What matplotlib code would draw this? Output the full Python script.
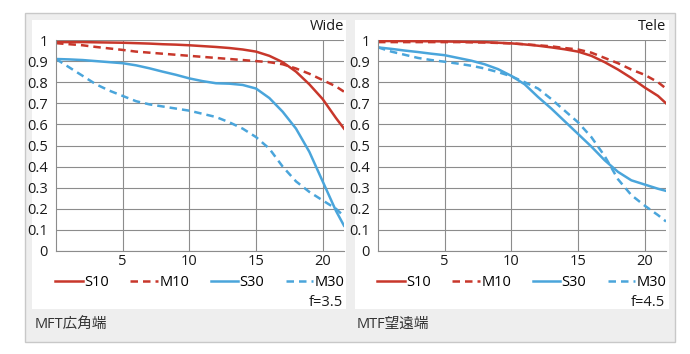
import matplotlib.pyplot as plt
from matplotlib.patches import Rectangle
from matplotlib.lines import Line2D

plt.rcParams['font.family'] = ['Open Sans', 'Noto Sans CJK JP', 'DejaVu Sans']

# data (image height, MTF)
x_wide = [0, 1, 2, 3, 4, 5, 6, 7, 8, 9, 10, 11, 12, 13, 14, 15, 16, 17, 18, 19, 20, 21, 21.6]
wide_s10 = [0.99, 0.99, 0.99, 0.989, 0.988, 0.987, 0.985, 0.983, 0.98, 0.978, 0.975, 0.971, 0.967, 0.962, 0.955, 0.945, 0.925, 0.895, 0.85, 0.79, 0.72, 0.63, 0.58]
wide_m10 = [0.985, 0.98, 0.975, 0.967, 0.96, 0.953, 0.945, 0.94, 0.935, 0.93, 0.925, 0.92, 0.915, 0.91, 0.905, 0.9, 0.895, 0.885, 0.865, 0.84, 0.81, 0.78, 0.755]
wide_s30 = [0.91, 0.908, 0.905, 0.9, 0.895, 0.89, 0.88, 0.866, 0.85, 0.835, 0.818, 0.805, 0.795, 0.793, 0.787, 0.77, 0.725, 0.66, 0.58, 0.47, 0.33, 0.19, 0.12]
wide_m30 = [0.91, 0.87, 0.83, 0.79, 0.76, 0.735, 0.71, 0.695, 0.685, 0.675, 0.665, 0.65, 0.635, 0.61, 0.58, 0.54, 0.485, 0.4, 0.33, 0.28, 0.24, 0.2, 0.165]

x_tele = [0, 1, 2, 3, 4, 5, 6, 7, 8, 9, 10, 11, 12, 13, 14, 15, 16, 17, 18, 19, 20, 21, 21.6]
tele_s10 = [0.995, 0.995, 0.995, 0.994, 0.994, 0.993, 0.992, 0.991, 0.99, 0.987, 0.984, 0.979, 0.973, 0.965, 0.956, 0.945, 0.925, 0.895, 0.86, 0.82, 0.775, 0.735, 0.70]
tele_m10 = [0.99, 0.99, 0.99, 0.99, 0.99, 0.99, 0.99, 0.989, 0.988, 0.986, 0.984, 0.98, 0.975, 0.97, 0.962, 0.955, 0.94, 0.915, 0.89, 0.86, 0.835, 0.8, 0.77]
tele_s30 = [0.965, 0.958, 0.95, 0.943, 0.935, 0.928, 0.915, 0.902, 0.885, 0.862, 0.83, 0.79, 0.73, 0.675, 0.615, 0.555, 0.495, 0.43, 0.375, 0.335, 0.315, 0.295, 0.285]
tele_m30 = [0.965, 0.945, 0.93, 0.915, 0.905, 0.897, 0.888, 0.878, 0.865, 0.848, 0.828, 0.8, 0.77, 0.72, 0.665, 0.61, 0.54, 0.45, 0.34, 0.265, 0.215, 0.17, 0.14]

x_ticks = [5, 10, 15, 20]
y_ticks = [0, 0.1, 0.2, 0.3, 0.4, 0.5, 0.6, 0.7, 0.8, 0.9, 1]
y_labels = ['0', '0.1', '0.2', '0.3', '0.4', '0.5', '0.6', '0.7', '0.8', '0.9', '1']
series_names = ['S10', 'M10', 'S30', 'M30']

RED = '#c8372b'
BLUE = '#4aa5db'
FS = 10.5
W, H = 690, 354


def fx(px):
    return px / W


def fy(py):
    return 1 - py / H


fig = plt.figure(figsize=(6.9, 3.54), dpi=100)

# outer gray box + white panels
fig.patches.append(Rectangle((fx(25), fy(342)), fx(650), 329 / H, transform=fig.transFigure,
                             facecolor='#eeeeee', edgecolor='#c8c8c8', lw=1, zorder=-2))
for left in (32, 355):
    fig.patches.append(Rectangle((fx(left), fy(309)), fx(314), 289 / H, transform=fig.transFigure,
                                 facecolor='white', edgecolor='none', zorder=-1))


def draw_panel(left_px, xs, s10, m10, s30, m30, title, fnum, caption):
    ax = fig.add_axes([fx(left_px), fy(251), fx(288), 211 / H])
    ax.set_zorder(1)
    ax.set_facecolor('none')
    ax.plot(xs, s10, color=RED, lw=1.8)
    ax.plot(xs, m10, color=RED, lw=1.8, dashes=(3, 2))
    ax.plot(xs, s30, color=BLUE, lw=1.8)
    ax.plot(xs, m30, color=BLUE, lw=1.8, dashes=(3, 2))
    ax.set_xlim(0, 21.6)
    ax.set_ylim(0, 1)
    ax.set_xticks(x_ticks)
    ax.set_yticks(y_ticks)
    ax.set_yticklabels(y_labels)
    ax.grid(True, color='#8c8c8c', lw=0.8)
    ax.set_axisbelow(True)
    ax.tick_params(length=0, labelsize=FS, colors='#1a1a1a')
    ax.tick_params(axis='x', pad=2)
    ax.tick_params(axis='y', pad=6)
    for s in ('top', 'right'):
        ax.spines[s].set_visible(False)
    for s in ('left', 'bottom'):
        ax.spines[s].set_color('#8c8c8c')
        ax.spines[s].set_linewidth(0.8)

    handles = [Line2D([], [], color=RED, lw=1.8),
               Line2D([], [], color=RED, lw=1.8, dashes=(3, 2)),
               Line2D([], [], color=BLUE, lw=1.8),
               Line2D([], [], color=BLUE, lw=1.8, dashes=(3, 2))]
    ax.legend(handles, series_names, loc='center', bbox_to_anchor=(0.5, -0.15), ncol=4,
              frameon=False, fontsize=FS, handlelength=1.9, handletextpad=0.1,
              columnspacing=1.45, borderaxespad=0, borderpad=0)

    fig.text(fx(left_px + 288), fy(26), title, ha='right', va='center', fontsize=FS, color='#1a1a1a')
    fig.text(fx(left_px + 287), fy(303), fnum, ha='right', va='center', fontsize=FS, color='#1a1a1a')
    fig.text(fx(left_px - 21), fy(324), caption, ha='left', va='center', fontsize=FS, color='#333333')


draw_panel(56, x_wide, wide_s10, wide_m10, wide_s30, wide_m30, 'Wide', 'f=3.5', 'MFT広角端')
draw_panel(378, x_tele, tele_s10, tele_m10, tele_s30, tele_m30, 'Tele', 'f=4.5', 'MTF望遠端')

fig.savefig('out.png', dpi=100)
